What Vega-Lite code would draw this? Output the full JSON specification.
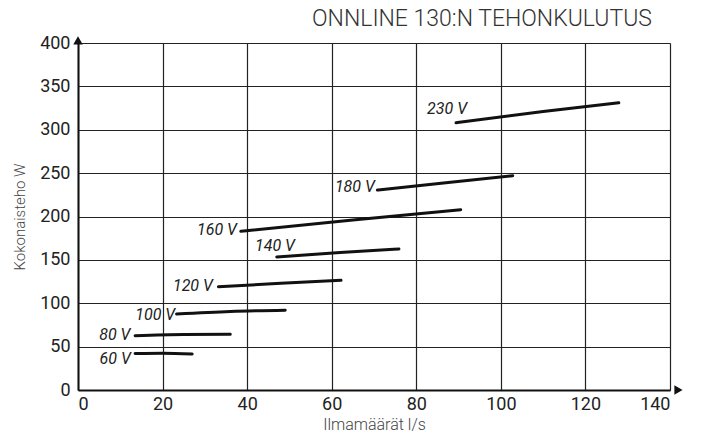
{
  "$schema": "https://vega.github.io/schema/vega-lite/v6.json",
  "width": 592,
  "height": 347,
  "autosize": {"type": "none"},
  "padding": {"left": 78, "top": 43, "right": 37, "bottom": 46},
  "background": "white",
  "title": {
    "text": "ONNLINE 130:N TEHONKULUTUS",
    "font": "Roboto",
    "fontWeight": 300,
    "fontSize": 23,
    "color": "#333",
    "anchor": "start",
    "frame": "group",
    "dx": 234,
    "offset": 3
  },
  "config": {
    "view": {"stroke": null},
    "axis": {
      "labelFont": "Roboto",
      "labelFontSize": 18,
      "labelColor": "#222",
      "titleFont": "Roboto",
      "titleFontWeight": 300,
      "titleColor": "#444",
      "gridColor": "#222",
      "gridWidth": 1.2,
      "gridOpacity": 1,
      "domainColor": "#111",
      "domainWidth": 2,
      "ticks": false
    }
  },
  "datasets": {
    "lines": [
      {"v": "60 V", "q": 13.5, "p": 42},
      {"v": "60 V", "q": 20, "p": 42.5},
      {"v": "60 V", "q": 27, "p": 41.5},
      {"v": "80 V", "q": 13.5, "p": 62.6},
      {"v": "80 V", "q": 25, "p": 64},
      {"v": "80 V", "q": 36, "p": 64.2},
      {"v": "100 V", "q": 23.3, "p": 87.6},
      {"v": "100 V", "q": 36, "p": 90.5},
      {"v": "100 V", "q": 49, "p": 91.9},
      {"v": "120 V", "q": 33.2, "p": 119},
      {"v": "120 V", "q": 48, "p": 123},
      {"v": "120 V", "q": 62.2, "p": 126.4},
      {"v": "140 V", "q": 47, "p": 153.3},
      {"v": "140 V", "q": 62, "p": 158.5},
      {"v": "140 V", "q": 75.9, "p": 162.5},
      {"v": "160 V", "q": 38.5, "p": 183},
      {"v": "160 V", "q": 65, "p": 196},
      {"v": "160 V", "q": 90.5, "p": 207.8},
      {"v": "180 V", "q": 70.8, "p": 230.5},
      {"v": "180 V", "q": 87, "p": 239},
      {"v": "180 V", "q": 102.8, "p": 247},
      {"v": "230 V", "q": 89.4, "p": 308},
      {"v": "230 V", "q": 110, "p": 321},
      {"v": "230 V", "q": 127.9, "p": 331}
    ],
    "labels": [
      {"v": "60 V", "q": 12.5, "p": 35.7},
      {"v": "80 V", "q": 12.4, "p": 63.4},
      {"v": "100 V", "q": 23, "p": 86.5},
      {"v": "120 V", "q": 31.9, "p": 120},
      {"v": "140 V", "q": 51.3, "p": 166},
      {"v": "160 V", "q": 37.6, "p": 184.4},
      {"v": "180 V", "q": 70.2, "p": 234.4},
      {"v": "230 V", "q": 92, "p": 323.6}
    ],
    "arrows": [
      {"q": 0, "p": 403, "s": "triangle-up"},
      {"q": 142, "p": 0, "s": "triangle-right"}
    ]
  },
  "layer": [
    {
      "data": {"name": "lines"},
      "mark": {"type": "line", "color": "#111", "strokeWidth": 3, "strokeCap": "round", "interpolate": "monotone"},
      "encoding": {
        "x": {
          "field": "q", "type": "quantitative",
          "scale": {"domain": [0, 140], "nice": false},
          "axis": {"values": [0, 20, 40, 60, 80, 100, 120, 140], "title": "Ilmamäärät l/s", "titleFontSize": 16, "titlePadding": 3, "labelPadding": 5}
        },
        "y": {
          "field": "p", "type": "quantitative",
          "scale": {"domain": [0, 400], "nice": false},
          "axis": {"values": [0, 50, 100, 150, 200, 250, 300, 350, 400], "title": "Kokonaisteho W", "titleFontSize": 15, "titlePadding": 12, "labelPadding": 8}
        },
        "detail": {"field": "v"}
      }
    },
    {
      "data": {"name": "labels"},
      "mark": {"type": "text", "font": "Roboto", "fontStyle": "italic", "fontSize": 16, "color": "#222", "align": "right", "baseline": "middle"},
      "encoding": {
        "x": {"field": "q", "type": "quantitative"},
        "y": {"field": "p", "type": "quantitative"},
        "text": {"field": "v"}
      }
    },
    {
      "data": {"name": "arrows"},
      "mark": {"type": "point", "filled": true, "color": "#111", "opacity": 1, "size": 90, "clip": false},
      "encoding": {
        "x": {"field": "q", "type": "quantitative"},
        "y": {"field": "p", "type": "quantitative"},
        "shape": {"field": "s", "type": "nominal", "scale": {"domain": ["triangle-up", "triangle-right"], "range": ["triangle-up", "triangle-right"]}, "legend": null}
      }
    }
  ]
}
